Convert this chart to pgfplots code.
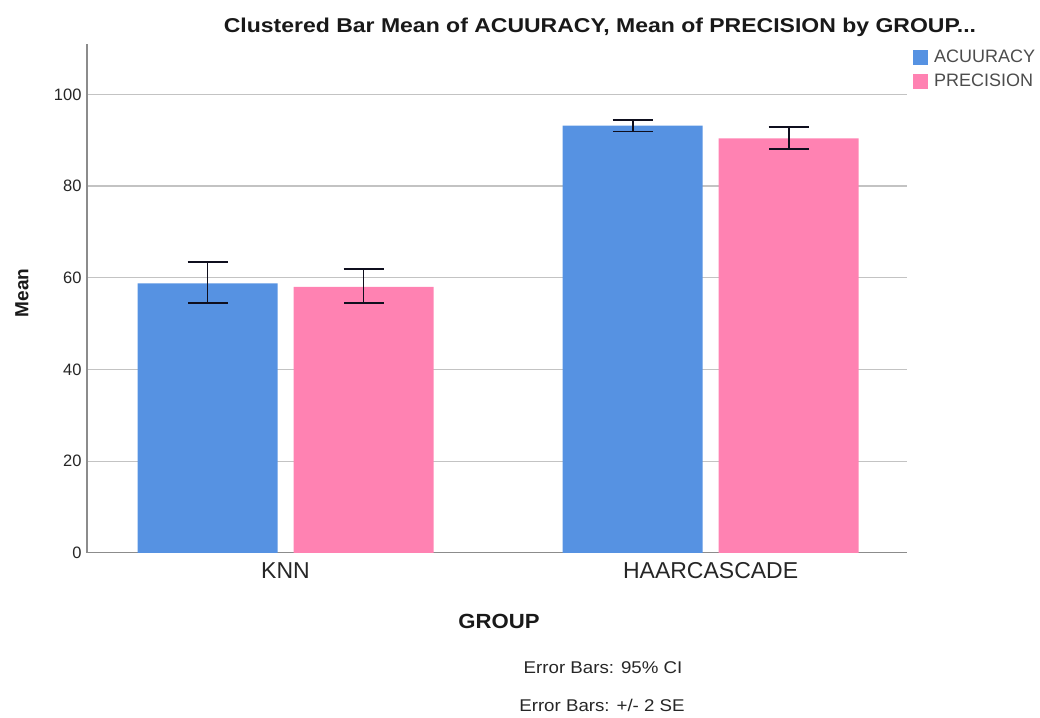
\documentclass[border=0pt]{standalone}
\usepackage{fontspec}
\setmainfont{Liberation Sans}
\usepackage{pgfplots}
\pgfplotsset{compat=1.18}
\definecolor{accblue}{RGB}{86,146,226}
\definecolor{precpink}{RGB}{255,130,178}
\definecolor{gridgray}{RGB}{195,195,195}
\definecolor{axgray}{RGB}{140,140,140}
\definecolor{errc}{RGB}{15,15,30}
\begin{document}
\begin{tikzpicture}[x=1pt,y=1pt]
\useasboundingbox (0,0) rectangle (1040,717);
\begin{axis}[
  at={(87pt,164.2pt)}, anchor=south west,
  scale only axis, width=820pt, height=508.8pt,
  xmin=-0.467, xmax=1.462, ymin=0, ymax=111,
  axis x line*=bottom, axis y line*=left,
  axis line style={axgray, line width=1.2pt, -},
  xtick={0,1}, xticklabels={KNN,HAARCASCADE},
  ytick={0,20,40,60,80,100},
  major tick length=0pt,
  ymajorgrids, grid style={gridgray, line width=1.2pt},
  /pgf/number format/assume math mode=true,
  yticklabel style={font=\fontsize{16.5}{19}\selectfont, text=black!85, xshift=-2pt},
  xticklabel style={font=\fontsize{23}{26}\selectfont, text=black!85, yshift=-6pt},
  ybar, bar width=0.3294,
  error bars/error bar style={errc, line width=1.8pt},
  error bars/error mark options={errc, rotate=90, mark size=20pt, line width=1.9pt},
  legend style={at={(1,1)}, anchor=north west, xshift=6pt, yshift=-4pt, draw=none, fill=none,
    font=\fontsize{18}{21}\selectfont, text=black!70, row sep=6pt, inner sep=0pt, cells={anchor=west}},
  legend image code/.code={\fill[#1] (0pt,-7.5pt) rectangle (15pt,7.5pt); \path (19pt,0pt);},
]
\addplot+[bar shift=-0.1835, fill=accblue, draw=none, error bars/.cd, y dir=both, y explicit]
  coordinates {(0,58.8) += (0,4.7) -= (0,4.4) (1,93.2) += (0,1.3) -= (0,1.3)};
\addplot+[bar shift=0.1835, fill=precpink, draw=none, error bars/.cd, y dir=both, y explicit]
  coordinates {(0,58.0) += (0,3.9) -= (0,3.6) (1,90.4) += (0,2.5) -= (0,2.3)};
\legend{ACUURACY,PRECISION}
\end{axis}
\node[font=\bfseries\fontsize{20}{24}\selectfont, text=black!90] at (600,690) {\scalebox{1.15}[1]{Clustered Bar Mean of ACUURACY, Mean of PRECISION by GROUP...}};
\node[font=\bfseries\fontsize{19}{22}\selectfont, rotate=90, text=black!90] at (22,424) {Mean};
\node[font=\bfseries\fontsize{20.5}{24}\selectfont, text=black!90] at (499,96) {\scalebox{1.08}[1]{GROUP}};
\node[font=\fontsize{17}{20}\selectfont, text=black!85] at (603,49) {\scalebox{1.1}[1]{Error Bars: 95\% CI}};
\node[font=\fontsize{17}{20}\selectfont, text=black!85] at (602,12) {\scalebox{1.1}[1]{Error Bars: +/- 2 SE}};
\end{tikzpicture}
\end{document}
